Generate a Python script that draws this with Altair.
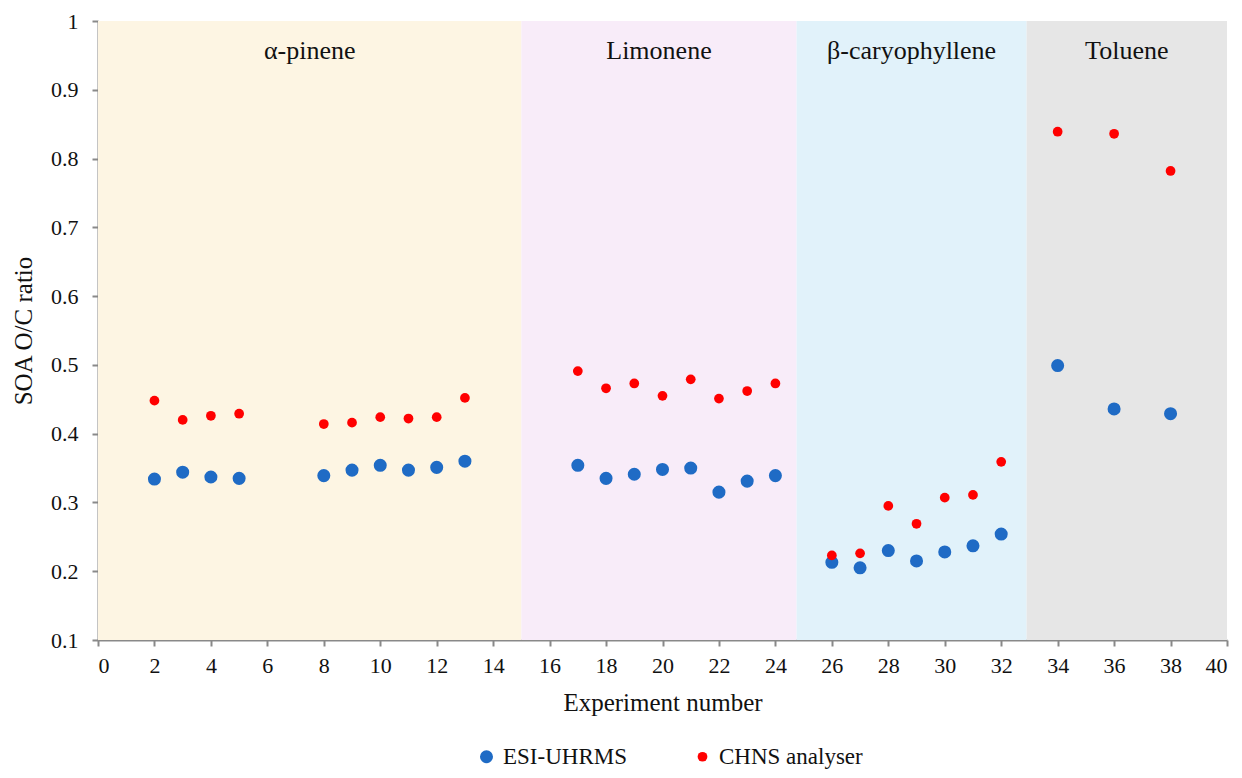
import altair as alt
import pandas as pd

# ---- data ----
exp_x = [2, 3, 4, 5, 8, 9, 10, 11, 12, 13,
         17, 18, 19, 20, 21, 22, 23, 24,
         26, 27, 28, 29, 30, 31, 32,
         34, 36, 38]
esi_y = [0.334, 0.344, 0.337, 0.335, 0.339, 0.347, 0.354, 0.347, 0.351, 0.360,
         0.354, 0.335, 0.341, 0.348, 0.350, 0.315, 0.331, 0.339,
         0.213, 0.205, 0.230, 0.215, 0.228, 0.237, 0.254,
         0.499, 0.436, 0.429]
chns_y = [0.448, 0.420, 0.426, 0.429, 0.414, 0.416, 0.424, 0.422, 0.424, 0.452,
          0.491, 0.466, 0.473, 0.455, 0.479, 0.451, 0.462, 0.473,
          0.223, 0.226, 0.295, 0.269, 0.307, 0.311, 0.359,
          0.839, 0.836, 0.782]
series_names = ["ESI-UHRMS", "CHNS analyser"]
series_colors = ["#1F6BC5", "#FF0000"]
series_sizes = [170, 95]

band_names = ["α-pinene", "Limonene", "β-caryophyllene", "Toluene"]
band_start = [0, 15, 24.75, 32.9]
band_end = [15, 24.75, 32.9, 40]
band_colors = ["#FDF5E3", "#F8ECF9", "#E1F2FA", "#E6E6E6"]
band_low = 0.1
band_high = 1.0
band_label_y = 0.957

x_ticks = list(range(0, 41))
y_ticks = [0.1, 0.2, 0.3, 0.4, 0.5, 0.6, 0.7, 0.8, 0.9, 1.0]

FONT = "'Liberation Serif', 'Times New Roman', Times, serif"

points = pd.DataFrame({
    "exp": exp_x + exp_x,
    "ratio": esi_y + chns_y,
    "series": [series_names[0]] * len(exp_x) + [series_names[1]] * len(exp_x),
    "order": [0] * len(exp_x) + [1] * len(exp_x),
})
bands = pd.DataFrame({
    "name": band_names,
    "start": band_start,
    "end": band_end,
    "color": band_colors,
    "low": [band_low] * 4,
    "high": [band_high] * 4,
    "ly": [band_label_y] * 4,
})

xscale = alt.Scale(domain=[0, 40], nice=False, zero=False)
yscale = alt.Scale(domain=[0.1, 1.0], nice=False, zero=False)

xaxis = alt.Axis(
    values=x_ticks,
    labelExpr="datum.value % 2 == 0 ? datum.label : ''",
    title="Experiment number",
    tickSize=6, labelPadding=9, titlePadding=14,
    labelFont=FONT, titleFont=FONT,
    labelFontSize=22, titleFontSize=25,
)
yaxis = alt.Axis(
    values=y_ticks,
    labelExpr="datum.value == 1 ? '1' : format(datum.value, '.1f')",
    title="SOA O/C ratio",
    tickSize=6, labelPadding=14, titlePadding=14,
    labelFont=FONT, titleFont=FONT,
    labelFontSize=22, titleFontSize=25,
)

rects = alt.Chart(bands).mark_rect().encode(
    x=alt.X("start:Q", scale=xscale, axis=xaxis),
    x2="end:Q",
    y=alt.Y("high:Q", scale=yscale, axis=yaxis),
    y2="low:Q",
    color=alt.Color("color:N", scale=None),
)

labels = alt.Chart(bands).transform_calculate(
    mid="(datum.start + datum.end) / 2"
).mark_text(font=FONT, fontSize=26, color="#111111", baseline="middle").encode(
    x=alt.X("mid:Q", scale=xscale),
    y=alt.Y("ly:Q", scale=yscale),
    text="name:N",
)

pts = alt.Chart(points).mark_circle(opacity=1).encode(
    x=alt.X("exp:Q", scale=xscale),
    y=alt.Y("ratio:Q", scale=yscale),
    color=alt.Color("series:N", scale=alt.Scale(domain=series_names, range=series_colors),
                    legend=alt.Legend(title=None, orient="none", legendX=377, legendY=724,
                                      direction="horizontal", columns=2, columnPadding=64,
                                      labelFont=FONT, labelFontSize=23, labelColor="#111111",
                                      symbolStrokeWidth=0, labelOffset=5)),
    size=alt.Size("series:N", scale=alt.Scale(domain=series_names, range=series_sizes)),
    order="order:Q",
)

chart = alt.layer(rects, labels, pts).properties(
    width=1129, height=619,
    autosize=alt.AutoSizeParams(type="none"),
    padding={"left": 90, "top": 13, "right": 6, "bottom": 130},
    background="white",
).configure_view(stroke=None).configure_axis(
    grid=False, domainColor="#898989", domainWidth=2, tickColor="#898989", tickWidth=2,
    labelFont=FONT, titleFont=FONT, labelColor="#111111", titleColor="#111111",
    titleFontWeight="normal",
).configure_legend(labelFont=FONT).configure_text(font=FONT)

chart.save("out.html", embed_options={"renderer": "svg", "actions": False})
